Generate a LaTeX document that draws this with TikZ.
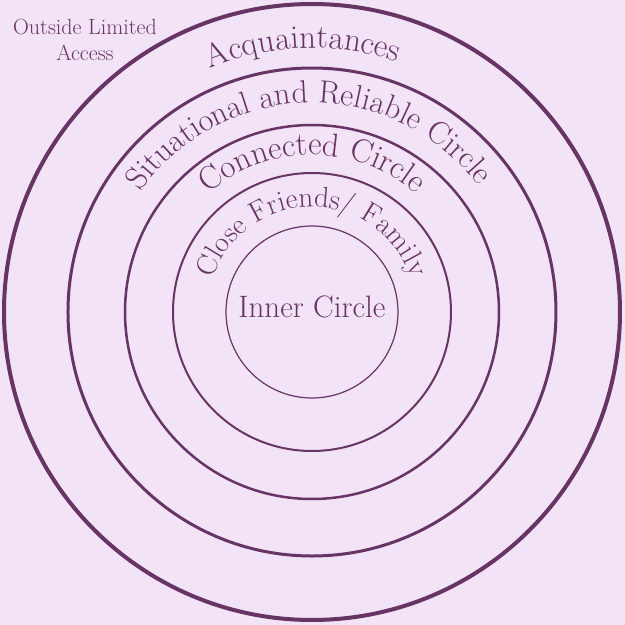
\documentclass[tikz,border=0pt]{standalone}
\usepackage{fontspec}
\usepackage{xcolor}
\usetikzlibrary{decorations.text}
\definecolor{bgpink}{HTML}{F3E3F6}
\definecolor{plum}{HTML}{673466}
\newcommand{\fsz}[1]{\fontsize{#1}{#1}\selectfont}

\begin{document}
\begin{tikzpicture}[x=1pt, y=1pt,
  ring/.style={draw=plum, line width=#1},
  ringlabel/.style={decorate, decoration={text along path, text align=center, text color=plum}},
  plainlabel/.style={text=plum, align=center}
]
  \fill[bgpink] (-312,-313) rectangle (313,312);
  \coordinate (mid) at (0,0);

  % rings, outside in
  \draw[ring=4pt]   (mid) circle[radius=308];
  \draw[ring=3pt]   (mid) circle[radius=244];
  \draw[ring=2.5pt] (mid) circle[radius=187];
  \draw[ring=2pt]   (mid) circle[radius=139];
  \draw[ring=1.2pt] (mid) circle[radius=86];

  % curved labels
  \path[ringlabel, decoration={text={|\fsz{33}|Acquaintances}}]
    (mid) ++(182:264) arc[start angle=182, end angle=2, radius=264];
  \path[ringlabel, decoration={text={|\fsz{32}|Situational and Reliable Circle}}]
    (mid) ++(181:209) arc[start angle=181, end angle=1, radius=209];
  \path[ringlabel, decoration={text={|\fsz{33}|Connected Circle}}]
    (mid) ++(180:157) arc[start angle=180, end angle=0, radius=157];
  \path[ringlabel, decoration={text={|\fsz{29}|Close Friends/ Family}}]
    (mid) ++(180:105) arc[start angle=180, end angle=0, radius=105];

  \node[plainlabel, font=\fsz{31}, anchor=base] (inner) at (0,-5) {Inner Circle};
  \node[plainlabel, font=\fontsize{22}{26}\selectfont] (outside) at (-227,272) {Outside Limited\\Access};
\end{tikzpicture}
\end{document}
